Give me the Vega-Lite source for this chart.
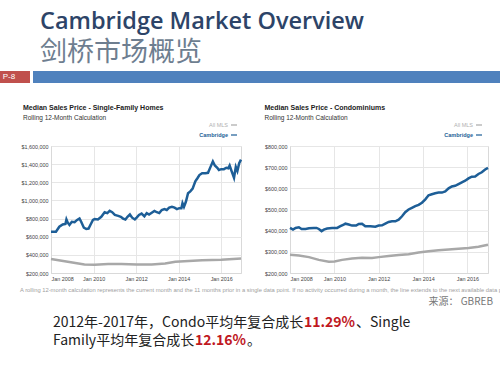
{
  "$schema": "https://vega.github.io/schema/vega-lite/v6.json",
  "padding": {"left": 0, "right": 0, "top": 9, "bottom": 0},
  "background": "white",
  "title": {
    "text": "Cambridge Market Overview",
    "subtitle": "剑桥市场概览",
    "anchor": "start",
    "dx": 40,
    "font": "Open Sans",
    "fontSize": 23.5,
    "fontWeight": 600,
    "color": "#2d4468",
    "subtitleFont": "Noto Sans CJK SC",
    "subtitleFontSize": 27,
    "subtitleColor": "#6e7e90",
    "subtitlePadding": 7,
    "offset": 5
  },
  "config": {
    "view": {"stroke": null},
    "font": "Liberation Sans"
  },
  "datasets": {
    "sf": [
      {"date": "2008-01-01", "series": "Cambridge", "price": 655000},
      {"date": "2008-03-26", "series": "Cambridge", "price": 655000},
      {"date": "2008-05-23", "series": "Cambridge", "price": 710000},
      {"date": "2008-07-20", "series": "Cambridge", "price": 735000},
      {"date": "2008-09-05", "series": "Cambridge", "price": 740000},
      {"date": "2008-09-22", "series": "Cambridge", "price": 790000},
      {"date": "2008-10-15", "series": "Cambridge", "price": 755000},
      {"date": "2008-11-13", "series": "Cambridge", "price": 730000},
      {"date": "2008-12-23", "series": "Cambridge", "price": 765000},
      {"date": "2009-02-09", "series": "Cambridge", "price": 760000},
      {"date": "2009-03-24", "series": "Cambridge", "price": 785000},
      {"date": "2009-05-04", "series": "Cambridge", "price": 800000},
      {"date": "2009-06-02", "series": "Cambridge", "price": 765000},
      {"date": "2009-07-18", "series": "Cambridge", "price": 700000},
      {"date": "2009-08-28", "series": "Cambridge", "price": 685000},
      {"date": "2009-10-07", "series": "Cambridge", "price": 690000},
      {"date": "2009-11-11", "series": "Cambridge", "price": 735000},
      {"date": "2009-12-21", "series": "Cambridge", "price": 785000},
      {"date": "2010-01-19", "series": "Cambridge", "price": 795000},
      {"date": "2010-03-16", "series": "Cambridge", "price": 790000},
      {"date": "2010-05-13", "series": "Cambridge", "price": 820000},
      {"date": "2010-07-10", "series": "Cambridge", "price": 870000},
      {"date": "2010-08-25", "series": "Cambridge", "price": 860000},
      {"date": "2010-10-04", "series": "Cambridge", "price": 885000},
      {"date": "2010-11-16", "series": "Cambridge", "price": 870000},
      {"date": "2011-01-01", "series": "Cambridge", "price": 840000},
      {"date": "2011-02-28", "series": "Cambridge", "price": 830000},
      {"date": "2011-04-13", "series": "Cambridge", "price": 820000},
      {"date": "2011-05-22", "series": "Cambridge", "price": 800000},
      {"date": "2011-07-01", "series": "Cambridge", "price": 790000},
      {"date": "2011-08-06", "series": "Cambridge", "price": 820000},
      {"date": "2011-09-16", "series": "Cambridge", "price": 845000},
      {"date": "2011-10-25", "series": "Cambridge", "price": 810000},
      {"date": "2011-12-10", "series": "Cambridge", "price": 790000},
      {"date": "2012-01-10", "series": "Cambridge", "price": 810000},
      {"date": "2012-02-19", "series": "Cambridge", "price": 840000},
      {"date": "2012-04-04", "series": "Cambridge", "price": 855000},
      {"date": "2012-05-22", "series": "Cambridge", "price": 825000},
      {"date": "2012-07-01", "series": "Cambridge", "price": 860000},
      {"date": "2012-08-10", "series": "Cambridge", "price": 845000},
      {"date": "2012-09-25", "series": "Cambridge", "price": 865000},
      {"date": "2012-11-10", "series": "Cambridge", "price": 885000},
      {"date": "2012-12-22", "series": "Cambridge", "price": 870000},
      {"date": "2013-02-01", "series": "Cambridge", "price": 860000},
      {"date": "2013-03-16", "series": "Cambridge", "price": 895000},
      {"date": "2013-05-01", "series": "Cambridge", "price": 905000},
      {"date": "2013-06-10", "series": "Cambridge", "price": 895000},
      {"date": "2013-07-22", "series": "Cambridge", "price": 920000},
      {"date": "2013-09-07", "series": "Cambridge", "price": 930000},
      {"date": "2013-10-22", "series": "Cambridge", "price": 920000},
      {"date": "2013-12-01", "series": "Cambridge", "price": 905000},
      {"date": "2014-01-10", "series": "Cambridge", "price": 915000},
      {"date": "2014-02-16", "series": "Cambridge", "price": 915000},
      {"date": "2014-03-07", "series": "Cambridge", "price": 970000},
      {"date": "2014-04-01", "series": "Cambridge", "price": 930000},
      {"date": "2014-05-04", "series": "Cambridge", "price": 985000},
      {"date": "2014-06-10", "series": "Cambridge", "price": 1080000},
      {"date": "2014-07-19", "series": "Cambridge", "price": 1100000},
      {"date": "2014-08-28", "series": "Cambridge", "price": 1130000},
      {"date": "2014-10-13", "series": "Cambridge", "price": 1210000},
      {"date": "2014-11-18", "series": "Cambridge", "price": 1245000},
      {"date": "2014-12-22", "series": "Cambridge", "price": 1280000},
      {"date": "2015-02-07", "series": "Cambridge", "price": 1300000},
      {"date": "2015-04-04", "series": "Cambridge", "price": 1300000},
      {"date": "2015-05-19", "series": "Cambridge", "price": 1305000},
      {"date": "2015-07-01", "series": "Cambridge", "price": 1370000},
      {"date": "2015-08-10", "series": "Cambridge", "price": 1430000},
      {"date": "2015-09-13", "series": "Cambridge", "price": 1385000},
      {"date": "2015-10-25", "series": "Cambridge", "price": 1360000},
      {"date": "2015-11-22", "series": "Cambridge", "price": 1335000},
      {"date": "2016-01-01", "series": "Cambridge", "price": 1345000},
      {"date": "2016-02-16", "series": "Cambridge", "price": 1345000},
      {"date": "2016-03-28", "series": "Cambridge", "price": 1360000},
      {"date": "2016-05-01", "series": "Cambridge", "price": 1355000},
      {"date": "2016-05-24", "series": "Cambridge", "price": 1385000},
      {"date": "2016-06-28", "series": "Cambridge", "price": 1320000},
      {"date": "2016-08-07", "series": "Cambridge", "price": 1250000},
      {"date": "2016-09-07", "series": "Cambridge", "price": 1370000},
      {"date": "2016-10-04", "series": "Cambridge", "price": 1325000},
      {"date": "2016-11-04", "series": "Cambridge", "price": 1410000},
      {"date": "2016-12-05", "series": "Cambridge", "price": 1450000},
      {"date": "2008-01-01", "series": "All MLS", "price": 354000},
      {"date": "2008-10-15", "series": "All MLS", "price": 325000},
      {"date": "2009-07-28", "series": "All MLS", "price": 293000},
      {"date": "2010-01-19", "series": "All MLS", "price": 290000},
      {"date": "2010-09-07", "series": "All MLS", "price": 300000},
      {"date": "2011-04-25", "series": "All MLS", "price": 300000},
      {"date": "2012-01-10", "series": "All MLS", "price": 293000},
      {"date": "2012-09-25", "series": "All MLS", "price": 293000},
      {"date": "2013-05-13", "series": "All MLS", "price": 304000},
      {"date": "2013-11-04", "series": "All MLS", "price": 325000},
      {"date": "2014-06-22", "series": "All MLS", "price": 332000},
      {"date": "2015-02-07", "series": "All MLS", "price": 340000},
      {"date": "2016-01-01", "series": "All MLS", "price": 346000},
      {"date": "2016-12-05", "series": "All MLS", "price": 360000}
    ],
    "condo": [
      {"date": "2008-01-01", "series": "Cambridge", "price": 413000},
      {"date": "2008-02-19", "series": "Cambridge", "price": 405000},
      {"date": "2008-04-02", "series": "Cambridge", "price": 413000},
      {"date": "2008-05-26", "series": "Cambridge", "price": 416000},
      {"date": "2008-07-10", "series": "Cambridge", "price": 408000},
      {"date": "2008-09-14", "series": "Cambridge", "price": 408000},
      {"date": "2008-11-08", "series": "Cambridge", "price": 411000},
      {"date": "2009-01-29", "series": "Cambridge", "price": 413000},
      {"date": "2009-03-13", "series": "Cambridge", "price": 413000},
      {"date": "2009-04-20", "series": "Cambridge", "price": 408000},
      {"date": "2009-06-04", "series": "Cambridge", "price": 398000},
      {"date": "2009-07-11", "series": "Cambridge", "price": 405000},
      {"date": "2009-09-04", "series": "Cambridge", "price": 410000},
      {"date": "2009-11-25", "series": "Cambridge", "price": 413000},
      {"date": "2010-02-16", "series": "Cambridge", "price": 413000},
      {"date": "2010-04-10", "series": "Cambridge", "price": 421000},
      {"date": "2010-06-04", "series": "Cambridge", "price": 429000},
      {"date": "2010-07-01", "series": "Cambridge", "price": 433000},
      {"date": "2010-08-25", "series": "Cambridge", "price": 429000},
      {"date": "2010-10-19", "series": "Cambridge", "price": 424000},
      {"date": "2010-12-25", "series": "Cambridge", "price": 424000},
      {"date": "2011-02-07", "series": "Cambridge", "price": 432000},
      {"date": "2011-04-01", "series": "Cambridge", "price": 433000},
      {"date": "2011-05-25", "series": "Cambridge", "price": 421000},
      {"date": "2011-08-16", "series": "Cambridge", "price": 421000},
      {"date": "2011-11-07", "series": "Cambridge", "price": 419000},
      {"date": "2012-01-01", "series": "Cambridge", "price": 424000},
      {"date": "2012-02-25", "series": "Cambridge", "price": 425000},
      {"date": "2012-04-19", "series": "Cambridge", "price": 433000},
      {"date": "2012-06-13", "series": "Cambridge", "price": 441000},
      {"date": "2012-08-07", "series": "Cambridge", "price": 444000},
      {"date": "2012-10-01", "series": "Cambridge", "price": 444000},
      {"date": "2012-11-25", "series": "Cambridge", "price": 452000},
      {"date": "2013-01-19", "series": "Cambridge", "price": 468000},
      {"date": "2013-03-13", "series": "Cambridge", "price": 487000},
      {"date": "2013-05-07", "series": "Cambridge", "price": 500000},
      {"date": "2013-07-01", "series": "Cambridge", "price": 508000},
      {"date": "2013-08-25", "series": "Cambridge", "price": 516000},
      {"date": "2013-10-19", "series": "Cambridge", "price": 522000},
      {"date": "2013-12-13", "series": "Cambridge", "price": 532000},
      {"date": "2014-02-07", "series": "Cambridge", "price": 548000},
      {"date": "2014-04-01", "series": "Cambridge", "price": 567000},
      {"date": "2014-05-25", "series": "Cambridge", "price": 572000},
      {"date": "2014-07-19", "series": "Cambridge", "price": 577000},
      {"date": "2014-09-13", "series": "Cambridge", "price": 580000},
      {"date": "2014-11-07", "series": "Cambridge", "price": 580000},
      {"date": "2015-01-01", "series": "Cambridge", "price": 585000},
      {"date": "2015-02-25", "series": "Cambridge", "price": 600000},
      {"date": "2015-04-19", "series": "Cambridge", "price": 609000},
      {"date": "2015-06-13", "series": "Cambridge", "price": 612000},
      {"date": "2015-08-07", "series": "Cambridge", "price": 620000},
      {"date": "2015-10-01", "series": "Cambridge", "price": 628000},
      {"date": "2015-11-25", "series": "Cambridge", "price": 636000},
      {"date": "2016-01-19", "series": "Cambridge", "price": 647000},
      {"date": "2016-03-13", "series": "Cambridge", "price": 655000},
      {"date": "2016-05-07", "series": "Cambridge", "price": 656000},
      {"date": "2016-07-01", "series": "Cambridge", "price": 668000},
      {"date": "2016-08-25", "series": "Cambridge", "price": 676000},
      {"date": "2016-10-19", "series": "Cambridge", "price": 689000},
      {"date": "2016-12-05", "series": "Cambridge", "price": 697000},
      {"date": "2008-01-01", "series": "All MLS", "price": 286000},
      {"date": "2008-05-26", "series": "All MLS", "price": 283000},
      {"date": "2008-11-08", "series": "All MLS", "price": 275000},
      {"date": "2009-04-20", "series": "All MLS", "price": 262000},
      {"date": "2009-10-01", "series": "All MLS", "price": 253000},
      {"date": "2010-01-04", "series": "All MLS", "price": 254000},
      {"date": "2010-05-07", "series": "All MLS", "price": 262000},
      {"date": "2010-10-19", "series": "All MLS", "price": 268000},
      {"date": "2011-04-01", "series": "All MLS", "price": 272000},
      {"date": "2011-09-13", "series": "All MLS", "price": 271000},
      {"date": "2012-01-01", "series": "All MLS", "price": 275000},
      {"date": "2012-06-13", "series": "All MLS", "price": 280000},
      {"date": "2012-11-25", "series": "All MLS", "price": 285000},
      {"date": "2013-05-07", "series": "All MLS", "price": 289000},
      {"date": "2013-10-19", "series": "All MLS", "price": 297000},
      {"date": "2014-04-01", "series": "All MLS", "price": 303000},
      {"date": "2014-09-13", "series": "All MLS", "price": 308000},
      {"date": "2015-02-25", "series": "All MLS", "price": 311000},
      {"date": "2015-08-07", "series": "All MLS", "price": 315000},
      {"date": "2016-01-19", "series": "All MLS", "price": 318000},
      {"date": "2016-07-01", "series": "All MLS", "price": 324000},
      {"date": "2016-12-05", "series": "All MLS", "price": 333000}
    ]
  },
  "vconcat": [
    {
      "hconcat": [
        {
          "data": {"values": [{}]},
          "width": 30,
          "height": 12,
          "view": {"fill": "#c0504d", "stroke": null},
          "mark": {"type": "text", "color": "white", "fontSize": 8, "dx": -6},
          "encoding": {"text": {"value": "P-8"}}
        },
        {
          "data": {"values": [{}]},
          "width": 467,
          "height": 12,
          "view": {"fill": "#4f81bd", "stroke": null},
          "mark": {"type": "text", "fontSize": 0.1},
          "encoding": {"text": {"value": ""}}
        }
      ],
      "spacing": 3
    },
    {
      "vconcat": [
        {
          "vconcat": [
            {
              "hconcat": [
                {
                  "data": {"values": [{}]}, "width": 1, "height": 1,
                  "mark": {"type": "text", "fontSize": 0.1}, "encoding": {"text": {"value": ""}}
                },
                {
                  "hconcat": [
                    {
                      "data": {"name": "sf"},
                      "width": 190,
                      "height": 127,
                      "view": {"stroke": "#d9d9d9"},
                      "title": {
                        "text": "Median Sales Price - Single-Family Homes",
                        "subtitle": "Rolling 12-Month Calculation",
                        "anchor": "start",
                        "dx": 21,
                        "fontSize": 7,
                        "fontWeight": "bold",
                        "color": "#222222",
                        "subtitleFontSize": 6.5,
                        "subtitleColor": "#333333",
                        "subtitlePadding": 4,
                        "offset": 0
                      },
                      "mark": {"type": "line", "strokeWidth": 2.5},
                      "encoding": {
                        "x": {
                          "field": "date",
                          "type": "temporal",
                          "scale": {"domain": [{"year": 2008, "month": 1, "date": 1}, {"year": 2016, "month": 12, "date": 5}]},
                          "axis": {
                            "title": null,
                            "values": [{"year": 2008, "month": 1, "date": 1}, {"year": 2010, "month": 1, "date": 1}, {"year": 2012, "month": 1, "date": 1}, {"year": 2014, "month": 1, "date": 1}, {"year": 2016, "month": 1, "date": 1}],
                            "format": "%b %Y",
                            "labelFontSize": 5.4,
                            "labelColor": "#444444",
                            "tickSize": 0,
                            "labelPadding": 3,
                            "grid": true,
                            "gridColor": "#e6e6e6",
                            "domainColor": "#d9d9d9"
                          }
                        },
                        "y": {
                          "field": "price",
                          "type": "quantitative",
                          "scale": {"domain": [200000, 1600000], "nice": false},
                          "axis": {
                            "title": "x",
                            "titleOpacity": 0,
                            "titleFontSize": 14,
                            "titlePadding": 5,
                            "values": [200000, 400000, 600000, 800000, 1000000, 1200000, 1400000, 1600000],
                            "format": "$,.0f",
                            "labelFontSize": 5.4,
                            "labelColor": "#444444",
                            "tickSize": 0,
                            "labelPadding": 3,
                            "grid": true,
                            "gridColor": "#e6e6e6",
                            "domainColor": "#d9d9d9"
                          }
                        },
                        "color": {
                          "field": "series",
                          "type": "nominal",
                          "scale": {"domain": ["All MLS", "Cambridge"], "range": ["#a8a8a8", "#1d5e97"]},
                          "legend": {
                            "orient": "none",
                            "legendX": 179,
                            "legendY": -25,
                            "title": null,
                            "symbolType": "stroke",
                            "symbolSize": 36,
                            "symbolStrokeWidth": 1.2,
                            "labelFontSize": 5.5,
                            "labelAlign": "right",
                            "labelOffset": -10,
                            "rowPadding": 2,
                            "labelColor": {"expr": "datum.label == 'Cambridge' ? '#1d5e97' : '#b0b0b0'"},
                            "labelFontWeight": {"expr": "datum.label == 'Cambridge' ? 'bold' : 'normal'"}
                          }
                        }
                      }
                    },
                    {
                      "data": {"name": "condo"},
                      "width": 198,
                      "height": 127,
                      "view": {"stroke": "#d9d9d9"},
                      "title": {
                        "text": "Median Sales Price - Condominiums",
                        "subtitle": "Rolling 12-Month Calculation",
                        "anchor": "start",
                        "fontSize": 7,
                        "fontWeight": "bold",
                        "color": "#222222",
                        "subtitleFontSize": 6.5,
                        "subtitleColor": "#333333",
                        "subtitlePadding": 4,
                        "offset": 0
                      },
                      "mark": {"type": "line", "strokeWidth": 2.5},
                      "encoding": {
                        "x": {
                          "field": "date",
                          "type": "temporal",
                          "scale": {"domain": [{"year": 2008, "month": 1, "date": 1}, {"year": 2016, "month": 12, "date": 5}]},
                          "axis": {
                            "title": null,
                            "values": [{"year": 2008, "month": 1, "date": 1}, {"year": 2010, "month": 1, "date": 1}, {"year": 2012, "month": 1, "date": 1}, {"year": 2014, "month": 1, "date": 1}, {"year": 2016, "month": 1, "date": 1}],
                            "format": "%b %Y",
                            "labelFontSize": 5.4,
                            "labelColor": "#444444",
                            "tickSize": 0,
                            "labelPadding": 3,
                            "grid": true,
                            "gridColor": "#e6e6e6",
                            "domainColor": "#d9d9d9"
                          }
                        },
                        "y": {
                          "field": "price",
                          "type": "quantitative",
                          "scale": {"domain": [200000, 800000], "nice": false},
                          "axis": {
                            "title": null,
                            "values": [200000, 300000, 400000, 500000, 600000, 700000, 800000],
                            "format": "$,.0f",
                            "labelFontSize": 5.4,
                            "labelColor": "#444444",
                            "tickSize": 0,
                            "labelPadding": 3,
                            "grid": true,
                            "gridColor": "#e6e6e6",
                            "domainColor": "#d9d9d9"
                          }
                        },
                        "color": {
                          "field": "series",
                          "type": "nominal",
                          "scale": {"domain": ["All MLS", "Cambridge"], "range": ["#a8a8a8", "#1d5e97"]},
                          "legend": {
                            "orient": "none",
                            "legendX": 185,
                            "legendY": -25,
                            "title": null,
                            "symbolType": "stroke",
                            "symbolSize": 36,
                            "symbolStrokeWidth": 1.2,
                            "labelFontSize": 5.5,
                            "labelAlign": "right",
                            "labelOffset": -10,
                            "rowPadding": 2,
                            "labelColor": {"expr": "datum.label == 'Cambridge' ? '#1d5e97' : '#b0b0b0'"},
                            "labelFontWeight": {"expr": "datum.label == 'Cambridge' ? 'bold' : 'normal'"}
                          }
                        }
                      }
                    }
                  ],
                  "spacing": 17,
                  "resolve": {
                    "scale": {"color": "independent", "x": "independent", "y": "independent"},
                    "legend": {"color": "independent"}
                  }
                }
              ],
              "spacing": 0,
              "resolve": {
                "scale": {"color": "independent", "x": "independent", "y": "independent"},
                "legend": {"color": "independent"}
              }
            },
            {
              "data": {"values": [{}]}, "width": 1, "height": 1,
              "mark": {"type": "text", "fontSize": 0.1}, "encoding": {"text": {"value": ""}},
              "title": {
                "text": "A rolling 12-month calculation represents the current month and the 11 months prior in a single data point. If no activity occurred during a month, the line extends to the next available data point.",
                "anchor": "start",
                "dx": 20,
                "offset": 0,
                "fontSize": 5.8,
                "fontWeight": "normal",
                "color": "#a0a0a0"
              }
            }
          ],
          "spacing": 5
        },
        {
          "vconcat": [
            {
              "data": {"values": [{}]}, "width": 493, "height": 1,
              "mark": {"type": "text", "fontSize": 0.1}, "encoding": {"text": {"value": ""}},
              "title": {
                "text": "来源： GBREB",
                "anchor": "end",
                "frame": "group",
                "offset": 0,
                "font": "Noto Sans CJK SC",
                "fontSize": 10,
                "fontWeight": "normal",
                "color": "#777777"
              }
            },
            {
              "vconcat": [
                {
                  "hconcat": [
                    {
                      "data": {"values": [{}]}, "width": 1, "height": 1,
                      "mark": {"type": "text", "fontSize": 0.1}, "encoding": {"text": {"value": ""}},
                      "title": {"text": "2012年-2017年，Condo平均年复合成长", "anchor": "start", "dx": 53, "offset": 0, "font": "Noto Sans CJK SC", "fontSize": 14, "fontWeight": "normal", "color": "#222222"}
                    },
                    {
                      "data": {"values": [{}]}, "width": 1, "height": 1,
                      "mark": {"type": "text", "fontSize": 0.1}, "encoding": {"text": {"value": ""}},
                      "title": {"text": "11.29%", "anchor": "start", "offset": 0, "font": "Noto Sans CJK SC", "fontSize": 14, "fontWeight": "bold", "color": "#c0181f"}
                    },
                    {
                      "data": {"values": [{}]}, "width": 1, "height": 1,
                      "mark": {"type": "text", "fontSize": 0.1}, "encoding": {"text": {"value": ""}},
                      "title": {"text": " 、Single", "anchor": "start", "offset": 0, "font": "Noto Sans CJK SC", "fontSize": 14, "fontWeight": "normal", "color": "#222222"}
                    }
                  ],
                  "spacing": 0
                },
                {
                  "hconcat": [
                    {
                      "data": {"values": [{}]}, "width": 1, "height": 1,
                      "mark": {"type": "text", "fontSize": 0.1}, "encoding": {"text": {"value": ""}},
                      "title": {"text": "Family平均年复合成长", "anchor": "start", "dx": 53, "offset": 0, "font": "Noto Sans CJK SC", "fontSize": 14, "fontWeight": "normal", "color": "#222222"}
                    },
                    {
                      "data": {"values": [{}]}, "width": 1, "height": 1,
                      "mark": {"type": "text", "fontSize": 0.1}, "encoding": {"text": {"value": ""}},
                      "title": {"text": "12.16%", "anchor": "start", "offset": 0, "font": "Noto Sans CJK SC", "fontSize": 14, "fontWeight": "bold", "color": "#c0181f"}
                    },
                    {
                      "data": {"values": [{}]}, "width": 1, "height": 1,
                      "mark": {"type": "text", "fontSize": 0.1}, "encoding": {"text": {"value": ""}},
                      "title": {"text": "。", "anchor": "start", "offset": 0, "font": "Noto Sans CJK SC", "fontSize": 14, "fontWeight": "normal", "color": "#222222"}
                    }
                  ],
                  "spacing": 0
                }
              ],
              "spacing": 3
            }
          ],
          "spacing": 8
        }
      ],
      "spacing": 3
    }
  ],
  "spacing": 20
}
